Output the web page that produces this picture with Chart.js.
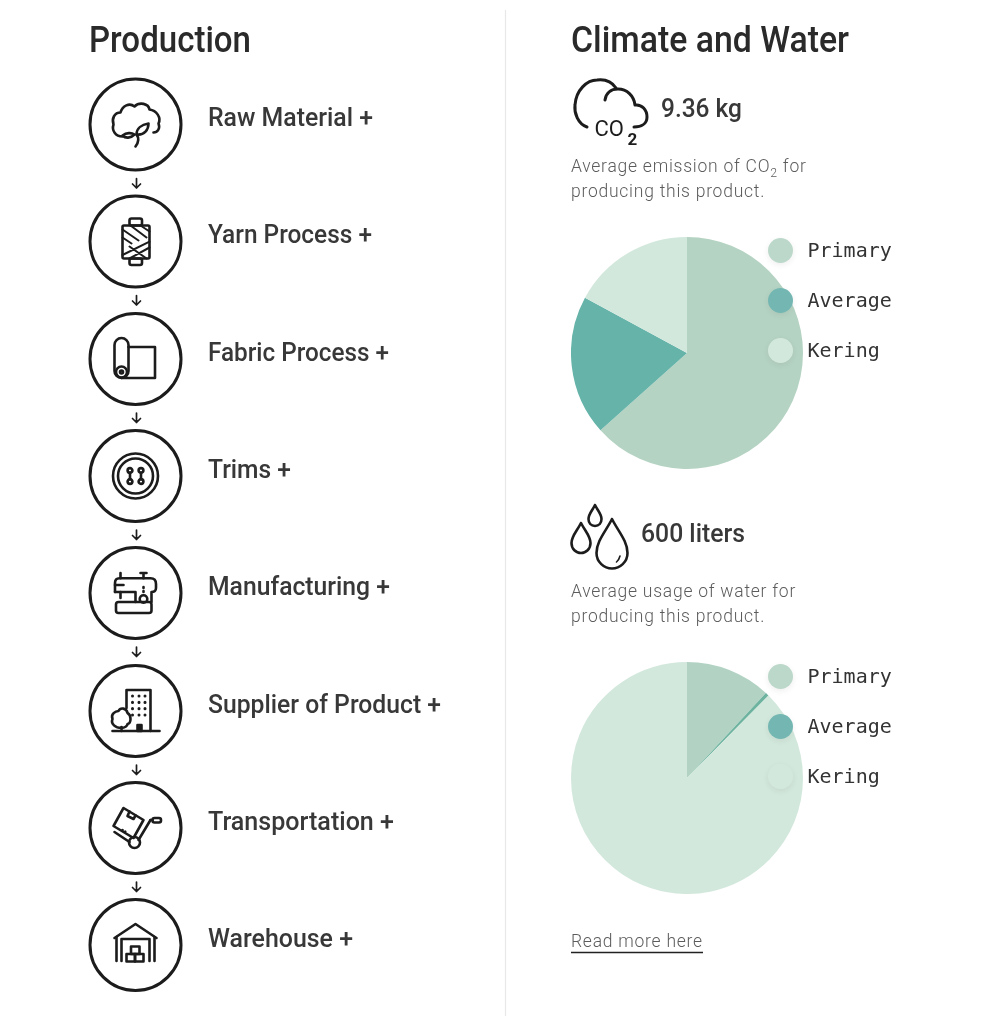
<!DOCTYPE html>
<html><head><meta charset="utf-8">
<script src="https://cdn.jsdelivr.net/npm/chart.js@4"></script>
<style>
html,body{margin:0;padding:0;background:#fff}
body{position:relative;width:986px;height:1024px;overflow:hidden;font-family:Roboto,sans-serif;color:#222}
.abs{position:absolute;white-space:nowrap;transform-origin:0 50%}
.h{font-size:36px;line-height:40px;color:#2a2a2a;font-weight:500}
.step{font-size:25px;line-height:30px;color:#383838;font-weight:500}
.val{font-size:25px;line-height:30px;color:#383838;font-weight:500}
.desc{font-size:17.5px;line-height:25px;color:#5c5c5c;font-weight:300;letter-spacing:.75px}
sub{font-size:70%;line-height:0}
.leg{font-family:"DejaVu Sans Mono",monospace;font-size:20px;line-height:24px;color:#333}
.dot{position:absolute;width:25px;height:25px;border-radius:50%;box-shadow:0 2px 6px rgba(0,0,0,.07)}
canvas{position:absolute}
svg{position:absolute;left:0;top:0}
svg .i{fill:none;stroke:#1c1c1c;stroke-width:2.6;stroke-linecap:round;stroke-linejoin:round}
</style></head>
<body>
<canvas id="pieCo2" width="232" height="232" style="left:571px;top:237px;width:232px;height:232px"></canvas>
<canvas id="pieWater" width="232" height="232" style="left:571px;top:662px;width:232px;height:232px"></canvas>
<svg id="art" width="986" height="1024" viewBox="0 0 986 1024"></svg>
<script>
const seriesLabels = ["Primary", "Average", "Kering"];
const co2Values = [63.4, 19.5, 17.1];
const waterValues = [11.9, 0.5, 87.6];
const sliceColors = ["#b5d3c3", "#65b3a9", "#d3e8dc"];
const waterSliceColors = ["#b2d3c4", "#6db39f", "#d3e8dc"];
const dotColors = ["#bcd8ca", "#74b7b2", "#d3e8dc"];
const stepLabels = ["Raw Material +", "Yarn Process +", "Fabric Process +", "Trims +", "Manufacturing +", "Supplier of Product +", "Transportation +", "Warehouse +"];
const stepCenters = [124.5, 241.5, 359, 476, 593, 711, 828, 945];
const stepTextWidths = [165, 164, 181, 83, 182, 233, 186, 145];

function pie(id, values, colors){
  new Chart(document.getElementById(id), {
    type: "pie",
    data: { labels: seriesLabels, datasets: [{ data: values, backgroundColor: colors, borderWidth: 0, hoverOffset: 0 }] },
    options: { responsive: false, animation: false, layout: { padding: 0 },
      plugins: { legend: { display: false }, tooltip: { enabled: false } } }
  });
}
pie("pieCo2", co2Values, sliceColors);
pie("pieWater", waterValues, waterSliceColors);

function text(cls, x, y, html, fit){
  const d = document.createElement("div");
  d.className = "abs " + cls; d.style.left = x + "px"; d.style.top = y + "px"; d.innerHTML = html;
  document.body.appendChild(d);
  if (fit) d.style.transform = "scaleX(" + (fit / d.getBoundingClientRect().width) + ")";
  return d;
}
text("h", 89, 20, "Production", 162);
text("h", 571, 20, "Climate and Water", 278);
stepLabels.forEach((s, i) => text("step", 208, stepCenters[i] - 21.5, s, stepTextWidths[i]));
text("val", 661, 94, "9.36 kg", 81);
text("val", 641, 519, "600 liters", 104);
text("desc", 571, 154, "Average emission of CO<sub>2</sub> for");
text("desc", 571, 179, "producing this product.");
text("desc", 571, 579, "Average usage of water for");
text("desc", 571, 604, "producing this product.");
text("desc", 571, 929, "Read more here");
function legend(top){
  seriesLabels.forEach((s, i) => {
    const y = top + i * 50.2;
    const d = document.createElement("div");
    d.className = "dot"; d.style.left = "767.5px"; d.style.top = (y - 12.5) + "px"; d.style.background = dotColors[i];
    document.body.appendChild(d);
    text("leg", 807.5, y - 12, s);
  });
}
legend(250); legend(676);

const circles = stepCenters.map(y => `<circle cx="135.5" cy="${y}" r="45.5" fill="none" stroke="#1c1c1c" stroke-width="3"/>`).join("");
const arrows = stepCenters.slice(0, 7).map(y => `<path class="i" style="stroke-width:1.7" d="M136.5 ${y+54}v9.5M132.5 ${y+59.5}l4 4l4-4"/>`).join("");
const icons = [
 // cotton
 `<path d="M-13 12C-20 12-24 6-22 0C-24-6-21-12-15-12C-13-19-6-22-1-18C4-23 13-21 14-15C21-14 26-7 23-1C25 4 22 8 18 8"/><path d="M1 10C1 4 6 0 13-1C13 5 9 11 1 10Z"/><path d="M-13 11C-9 8-4 8-1 10C-5 14-10 14-13 11Z"/><path d="M1 10C4 14 3 18 0 22"/>`,
 // spool
 `<rect x="-13" y="-16" width="27" height="33" rx="1.5"/><rect x="-6" y="-23" width="12.5" height="7" rx="2"/><rect x="-6" y="17" width="12.5" height="6.5" rx="2"/><path style="stroke-width:2" d="M-13-12L3-1M-5-16L11-4M-13-4L-4 2M5-16L14-10M-13 13.500L14 .2M-6 17L14 6M-6 5L11 17"/>`,
 // fabric roll
 `<rect x="-21" y="-21" width="14" height="40" rx="7"/><circle cx="-14" cy="13" r="5.5"/><circle cx="-14" cy="13" r="1.5"/><path d="M-7-12H19.5V19H-14"/>`,
 // button
 `<circle r="22.5"/><circle r="17.5"/><path d="M-5.5-3.5V3.5M5.5-3.5V3.5"/><circle cx="-5.5" cy="-5.5" r="2.4"/><circle cx="5.5" cy="-5.5" r="2.4"/><circle cx="-5.5" cy="5.5" r="2.4"/><circle cx="5.5" cy="5.5" r="2.4"/>`,
 // sewing machine
 `<rect x="-19.5" y="9" width="35.5" height="11" rx="2.5"/><path d="M-20.5-1H0V9"/><path d="M-20.5-1V-10Q-20.5-14.7-16-14.7H15Q20.5-14.7 20.5-9V-5Q20.5-1 16-1V9"/><path d="M-15-1V5M-15-14.7V-20M8-14.7V-20M5-20H11"/><circle cx="8" cy="6" r="3.8"/><path d="M-20.5-8H-12M8-6V-5M8-2V-1"/>`,
 // building
 `<path d="M-9 -3V-21H15V20"/><path d="M-23 20H24"/><path d="M2 20V14H6V20Z" fill="#1c1c1c"/><path style="stroke-width:3;stroke-dasharray:.1 6.2" d="M-3-15V8M3.500-15V8M9.500-15V8"/><path d="M-14 20V16M-14 17C-20 17-25 13-23 8C-25 3-20 0-17 0C-15-4-9-3-8 2C-4 4-4 12-8 13C-8 15-11 17-14 17Z"/>`,
 // dolly
 `<path d="M-12-20L8-8L-2 10L-22-2Z"/><path d="M-6-16.5L-8-12L-2-9L0-12.5"/><path d="M15-8L3 12"/><rect x="17" y="-10" width="8.5" height="4.5" rx="2"/><path d="M15-8H17"/><path d="M-21 4L-6 14"/><circle cx="-1" cy="14.5" r="5.5"/><path style="stroke-dasharray:.1 3" d="M-13 2L-8 5"/>`,
 // warehouse
 `<path d="M-21-7L0-21L21-7"/><path d="M-19-8V16M19-8V16"/><path d="M-14 16V-6H14V16"/><rect x="-9" y="9" width="8.5" height="7.5"/><rect x="-.5" y="9" width="8.500" height="7.5"/><rect x="-4.5" y="1.5" width="8.5" height="7.5"/>`
].map((g, i) => `<g class="i" transform="translate(135.5 ${stepCenters[i]})">${g}</g>`).join("");
const co2 = `<path class="i" style="stroke-width:3" d="M587 127C578 124 574 113 575 105C576 90 587 80 597 80C605 79 612 82 616 88"/><path class="i" style="stroke-width:3" d="M605 100C606 93 611 89 618 89C627 89 634 96 635 105C642 104 647 110 647 117C647 124 641 127 634 127"/><text x="594.500" y="136" font-family="Roboto" font-size="22" fill="#1c1c1c">CO</text><text x="627.500" y="144.500" font-family="Roboto" font-weight="700" font-size="17" fill="#1c1c1c">2</text>`;
const drops = `<g class="i" style="stroke-width:2.6"><path d="M595 505C592 511 588.500 514 588.500 519C588.500 523 591 526 595 526C599 526 601.500 523 601.500 519C601.500 514 598 511 595 505Z"/><path d="M581 523C577 531 571.500 536 571.500 543C571.500 549 576 553 581 553C586 553 590.500 549 590.500 543C590.500 536 585 531 581 523Z"/><path d="M612 519C606 531 596.500 541 596.500 553C596.500 562 604 568.500 612 568.500C620 568.500 627.500 562 627.500 553C627.500 541 618 531 612 519Z"/><path style="stroke-width:1.6" d="M616.500 562Q619 560 620 556"/></g>`;
const rules = `<line x1="505.5" y1="10" x2="505.5" y2="1016" stroke="#e8e8e8" stroke-width="1.2"/><line x1="571" y1="952.5" x2="703" y2="952.5" stroke="#222" stroke-width="1.5"/>`;
document.getElementById("art").innerHTML = circles + arrows + icons + co2 + drops + rules;
</script>
</body></html>
